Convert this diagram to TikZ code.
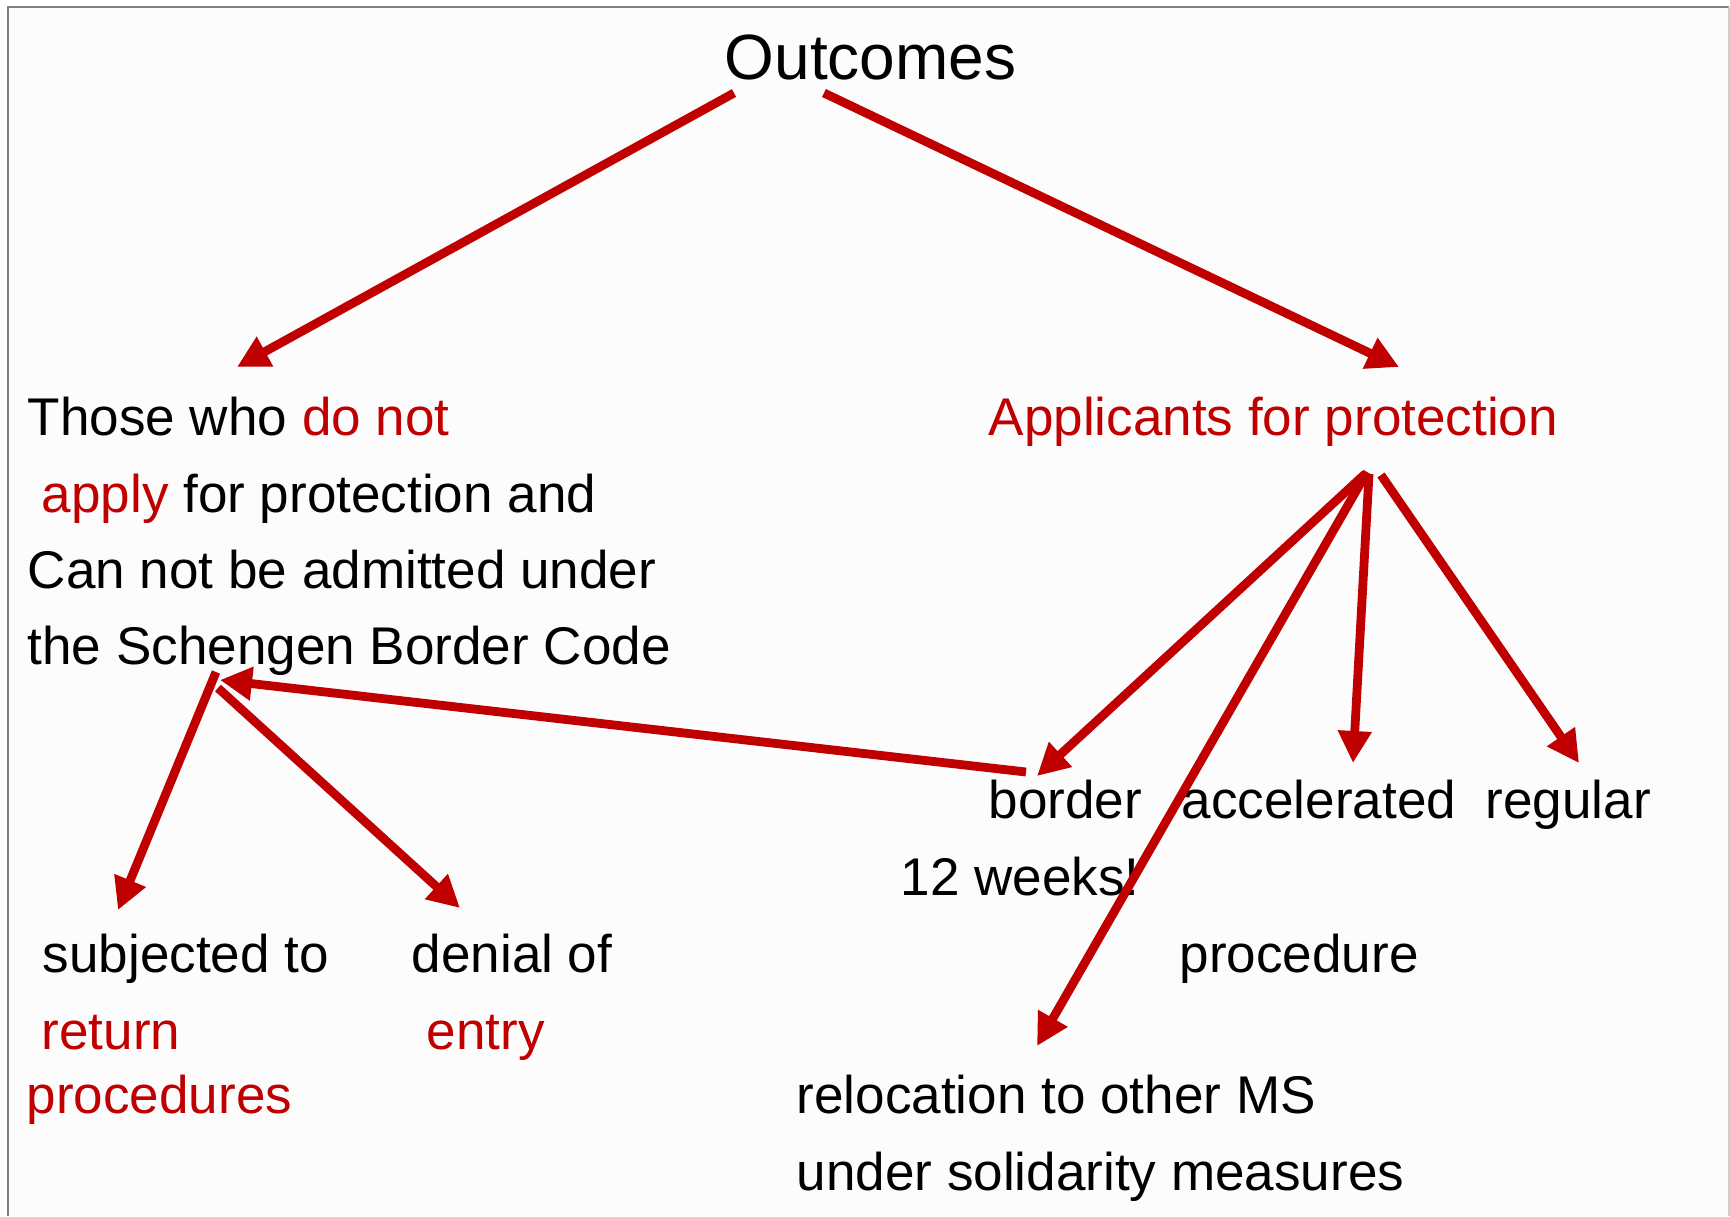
\documentclass[tikz,border=0pt]{standalone}
\usepackage{fontspec}
\setmainfont{Liberation Sans}
\usetikzlibrary{arrows.meta}
\definecolor{accent}{RGB}{192,0,0}
\definecolor{panel}{RGB}{252,252,252}
\definecolor{rim}{RGB}{128,128,128}
\definecolor{rimlight}{RGB}{205,205,205}
\tikzset{
  txt/.style={anchor=base west, inner sep=0pt, font=\fontsize{15.1pt}{21.7pt}\selectfont},
  hot/.style={txt, text=accent},
  link/.style={draw=accent, line width=0.88mm, -{Triangle[length=3.2mm,width=3.2mm]}}
}
\begin{document}
\begin{tikzpicture}[x=0.1mm,y=-0.1mm]
\useasboundingbox (0,0) rectangle (1730,1216);
\fill[white] (0,0) rectangle (1730,1216);
\fill[panel] (8,7) rectangle (1729,1216);
\draw[rim, line width=0.2mm] (8,1216) -- (8,7) -- (1729,7);
\draw[rimlight, line width=0.2mm] (1729,7) -- (1729,1216);
\node[txt, font=\fontsize{18.2pt}{22pt}\selectfont] (outcomes) at (724,79) {Outcomes};
\node[txt] (those) at (27,435) {Those who \textcolor{accent}{do not}};
\node[txt] (apply) at (41,512) {\textcolor{accent}{apply} for protection and};
\node[txt] (cannot) at (27,588) {Can not be admitted under};
\node[txt] (schengen) at (27,664) {the Schengen Border Code};
\node[hot] (applicants) at (988,435) {Applicants for protection};
\node[txt] (border) at (988,818) {border};
\node[txt] (accel) at (1181,818) {accelerated};
\node[txt] (regular) at (1485,818) {regular};
\node[txt] (weeks) at (900,895) {12 weeks!};
\node[txt] (procedure) at (1179,972) {procedure};
\node[txt] (subjected) at (42,972) {subjected to};
\node[hot] (return) at (41,1049) {return};
\node[hot] (procedures) at (26,1113) {procedures};
\node[txt] (denial) at (411,972) {denial of};
\node[hot] (entry) at (426,1049) {entry};
\node[txt] (reloc) at (796,1113) {relocation to other MS};
\node[txt] (solidarity) at (796,1190) {under solidarity measures};
\coordinate (out-l) at (734,93);
\coordinate (out-r) at (824,93);
\coordinate (those-in) at (237,367);
\coordinate (appl-in) at (1399,367);
\coordinate (appl-b) at (1365,474);
\coordinate (appl-rel) at (1367,472);
\coordinate (appl-acc) at (1369,474);
\coordinate (appl-reg) at (1381,475);
\coordinate (border-in) at (1037,776);
\coordinate (reloc-in) at (1037,1046);
\coordinate (accel-in) at (1353,763);
\coordinate (regular-in) at (1579,763);
\coordinate (border-out) at (1026,772);
\coordinate (schengen-in) at (220,680);
\coordinate (schengen-ret) at (216,672);
\coordinate (schengen-ent) at (218,688);
\coordinate (return-in) at (118,910);
\coordinate (entry-in) at (460,908);
\draw[link] (out-l) -- (those-in);
\draw[link] (out-r) -- (appl-in);
\draw[link] (appl-b) -- (border-in);
\draw[link] (appl-rel) -- (reloc-in);
\draw[link] (appl-acc) -- (accel-in);
\draw[link] (appl-reg) -- (regular-in);
\draw[link] (border-out) -- (schengen-in);
\draw[link] (schengen-ret) -- (return-in);
\draw[link] (schengen-ent) -- (entry-in);
\end{tikzpicture}
\end{document}
